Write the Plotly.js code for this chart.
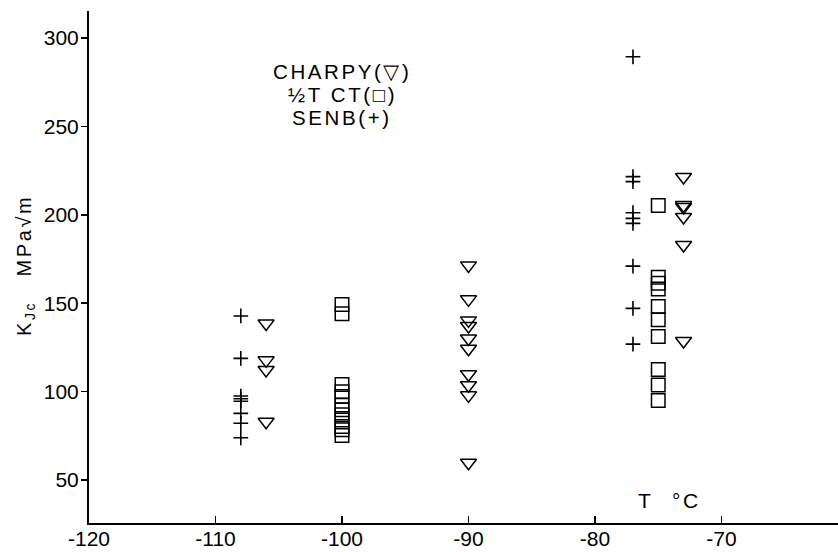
<!DOCTYPE html>
<html>
<head>
<meta charset="utf-8">
<script src="https://cdn.plot.ly/plotly-3.0.1.min.js"></script>
<style>
  html, body { margin: 0; padding: 0; background: #fff; }
  #chart { width: 838px; height: 552px; }
  .annotation-text { letter-spacing: 2.6px; }
</style>
</head>
<body>
<div id="chart"></div>
<script>
// ---- Data (temperature in °C, K_Jc in MPa√m) ----
// Charpy specimens (open downward triangles)
const charpyT = [-106, -106, -106, -106,
                 -90, -90, -90, -90, -90, -90, -90, -90, -90, -90,
                 -73, -73, -73, -73, -73, -73];
const charpyK = [138.5, 117.7, 112.2, 83.0,
                 171.4, 152.2, 140.3, 137.1, 130.1, 124.3, 109.8, 103.6, 97.9, 59.8,
                 221.4, 205.5, 204.4, 198.8, 182.9, 128.6];

// 1/2T CT specimens (open squares)
const ctT = [-100, -100, -100, -100, -100, -100, -100, -100, -100, -100, -100, -100,
             -75, -75, -75, -75, -75, -75, -75, -75, -75, -75];
const ctK = [149.3, 144.1, 104.0, 100.0, 97.2, 92.5, 89.7, 86.9, 84.0, 80.3, 78.4, 75.2,
             205.3, 164.7, 161.3, 158.1, 148.1, 140.6, 131.2, 112.5, 103.8, 95.0];

// SENB specimens (plus signs)
const senbT = [-108, -108, -108, -108, -108, -108, -108, -108,
               -77, -77, -77, -77, -77, -77, -77, -77, -77];
const senbK = [142.8, 118.8, 97.5, 96.0, 94.6, 87.7, 82.1, 73.9,
               289.4, 221.6, 218.8, 201.2, 198.0, 195.2, 171.0, 147.1, 126.9];

// Tick labels
const xTickVals = [-120, -110, -100, -90, -80, -70];
const xTickText = ['-120', '-110', '-100', '-90', '-80', '-70'];
const yTickVals = [50, 100, 150, 200, 250, 300];
const yTickText = ['50', '100', '150', '200', '250', '300'];

// Text
const legendLines = ['CHARPY(\u25BD)', '\u00BDT CT(\u25A1)', 'SENB(+)'];
const yTitle = 'K<sub>Jc</sub>\u00a0\u00a0\u00a0MPa\u221Am';

// ---- Traces ----
const black = '#000';
const traces = [
  {
    type: 'scatter', mode: 'markers', x: senbT, y: senbK,
    marker: { symbol: 'cross-thin', size: 10.5, color: black, line: { color: black, width: 1.6 } },
    hoverinfo: 'skip'
  },
  {
    type: 'scatter', mode: 'markers', x: ctT, y: ctK,
    marker: { symbol: 'square-open', size: 13.5, color: black, line: { color: black, width: 1.5 } },
    hoverinfo: 'skip'
  },
  {
    type: 'scatter', mode: 'markers', x: charpyT, y: charpyK,
    marker: { symbol: 'triangle-down-open', size: 14, color: black, line: { color: black, width: 1.5 } },
    hoverinfo: 'skip'
  }
];

const fontFam = '"Liberation Sans", Arial, Helvetica, sans-serif';

const annotations = [
  { xref: 'x', yref: 'y', x: -100, y: 280.8, text: legendLines[0], showarrow: false,
    font: { size: 20.5, color: black, family: fontFam }, xanchor: 'center', yanchor: 'middle' },
  { xref: 'x', yref: 'y', x: -100, y: 267.8, text: legendLines[1], showarrow: false,
    font: { size: 20.5, color: black, family: fontFam }, xanchor: 'center', yanchor: 'middle' },
  { xref: 'x', yref: 'y', x: -100, y: 254.9, text: legendLines[2], showarrow: false,
    font: { size: 20.5, color: black, family: fontFam }, xanchor: 'center', yanchor: 'middle' },
  { xref: 'x', yref: 'y', x: -76.0, y: 38.7, text: 'T', showarrow: false,
    font: { size: 21, color: black, family: fontFam }, xanchor: 'center', yanchor: 'middle' },
  { xref: 'x', yref: 'y', x: -72.75, y: 38.7, text: '\u00B0C', showarrow: false,
    font: { size: 21, color: black, family: fontFam }, xanchor: 'center', yanchor: 'middle' },
  { xref: 'paper', yref: 'paper', x: -0.084, y: 0.502, text: yTitle, showarrow: false,
    textangle: -90, font: { size: 20, color: black, family: fontFam }, xanchor: 'center', yanchor: 'middle' }
];

const layout = {
  width: 838, height: 552,
  margin: { l: 89, r: 0, t: 11, b: 29, pad: 0 },
  paper_bgcolor: '#fff', plot_bgcolor: '#fff',
  showlegend: false,
  font: { family: fontFam, color: black },
  xaxis: {
    range: [-120, -60.79],
    tickmode: 'array', tickvals: xTickVals, ticktext: xTickText,
    ticks: 'inside', ticklen: 7, tickwidth: 1.5, tickcolor: black,
    ticklabelstandoff: -4,
    showline: true, linewidth: 2, linecolor: black,
    showgrid: false, zeroline: false,
    tickfont: { size: 21, color: black, family: fontFam }
  },
  yaxis: {
    range: [25.7, 315.3],
    tickmode: 'array', tickvals: yTickVals, ticktext: yTickText,
    ticks: 'outside', ticklen: 6, tickwidth: 1.5, tickcolor: black,
    ticklabelstandoff: -2,
    showline: true, linewidth: 2, linecolor: black,
    showgrid: false, zeroline: false,
    tickfont: { size: 21, color: black, family: fontFam }
  },
  annotations: annotations
};

Plotly.newPlot('chart', traces, layout, { displayModeBar: false, staticPlot: true });
</script>
</body>
</html>
